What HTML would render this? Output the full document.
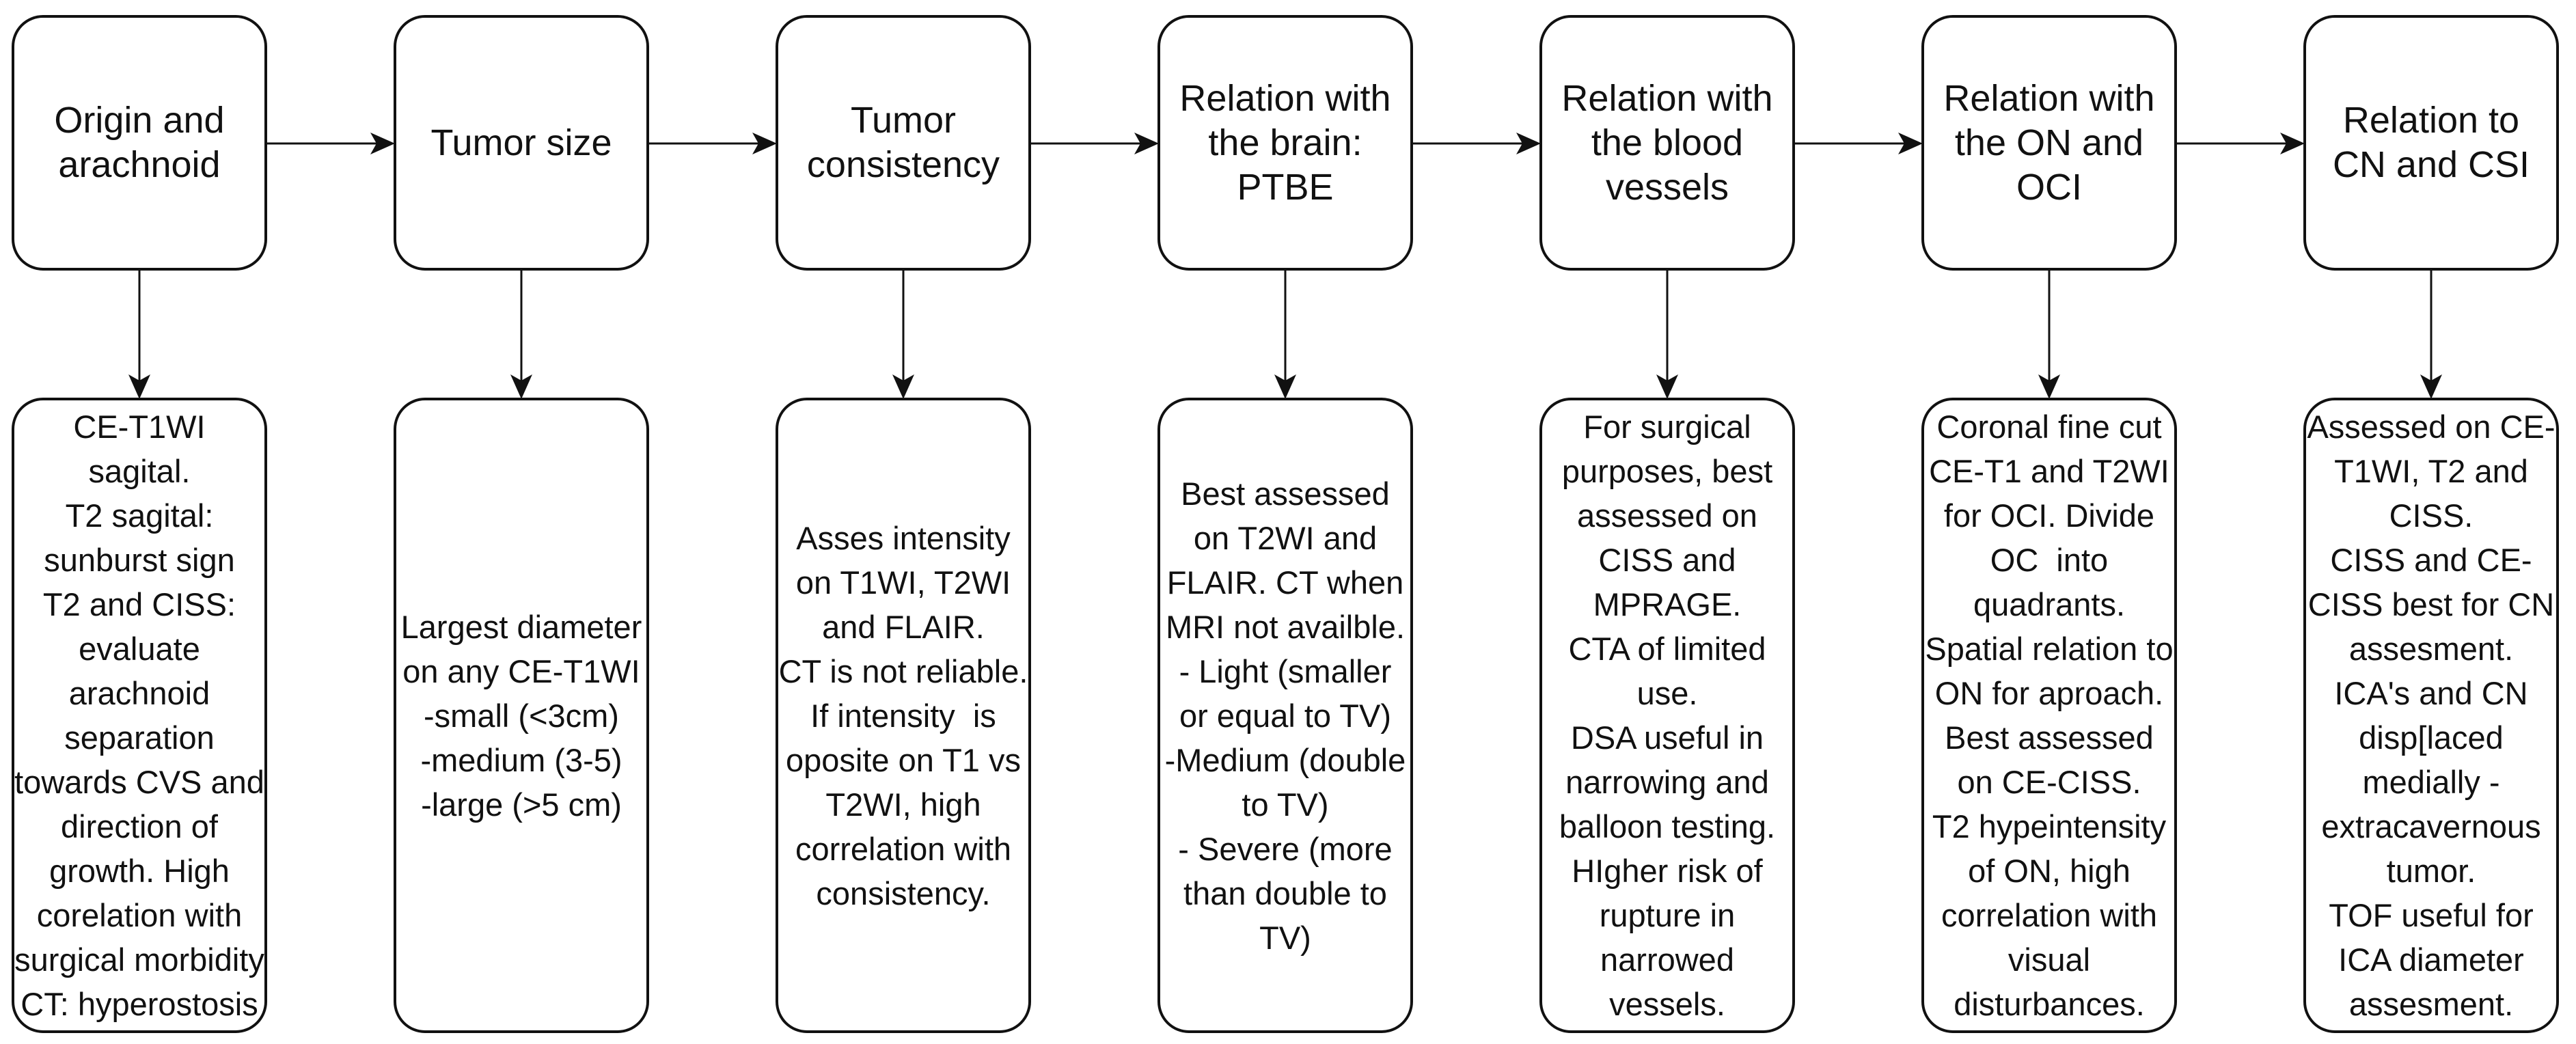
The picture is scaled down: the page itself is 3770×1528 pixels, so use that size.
<!DOCTYPE html>
<html><head><meta charset="utf-8">
<style>
html,body{margin:0;padding:0;background:#fff;}
body{width:3770px;height:1528px;position:relative;overflow:hidden;font-family:"Liberation Sans",Arial,sans-serif;color:#111;}
.b{position:absolute;box-sizing:border-box;border:4px solid #111;border-radius:46px;background:#fff;display:flex;align-items:center;justify-content:center;text-align:center;white-space:nowrap;}
.t{top:22px;height:374px;width:374px;font-size:54px;line-height:65px;}
.d{top:582px;height:930px;width:374px;font-size:47px;line-height:65px;}
svg{position:absolute;left:0;top:0;}
</style></head><body>
<svg width="3770" height="1528">
<g stroke="#111" stroke-width="3" fill="#111">
<!-- horizontal -->
<line x1="391" y1="210" x2="560" y2="210"/>
<line x1="950" y1="210" x2="1119" y2="210"/>
<line x1="1509" y1="210" x2="1678" y2="210"/>
<line x1="2068" y1="210" x2="2237" y2="210"/>
<line x1="2627" y1="210" x2="2796" y2="210"/>
<line x1="3186" y1="210" x2="3355" y2="210"/>
<!-- vertical -->
<line x1="204" y1="396" x2="204" y2="565"/>
<line x1="763" y1="396" x2="763" y2="565"/>
<line x1="1322" y1="396" x2="1322" y2="565"/>
<line x1="1881" y1="396" x2="1881" y2="565"/>
<line x1="2440" y1="396" x2="2440" y2="565"/>
<line x1="2999" y1="396" x2="2999" y2="565"/>
<line x1="3558" y1="396" x2="3558" y2="565"/>
</g>
<g fill="#111" stroke="none">
<path d="M578 210 L542 194 L551 210 L542 226 Z"/>
<path d="M1137 210 L1101 194 L1110 210 L1101 226 Z"/>
<path d="M1696 210 L1660 194 L1669 210 L1660 226 Z"/>
<path d="M2255 210 L2219 194 L2228 210 L2219 226 Z"/>
<path d="M2814 210 L2778 194 L2787 210 L2778 226 Z"/>
<path d="M3373 210 L3337 194 L3346 210 L3337 226 Z"/>
<path d="M204 584 L188 548 L204 557 L220 548 Z"/>
<path d="M763 584 L747 548 L763 557 L779 548 Z"/>
<path d="M1322 584 L1306 548 L1322 557 L1338 548 Z"/>
<path d="M1881 584 L1865 548 L1881 557 L1897 548 Z"/>
<path d="M2440 584 L2424 548 L2440 557 L2456 548 Z"/>
<path d="M2999 584 L2983 548 L2999 557 L3015 548 Z"/>
<path d="M3558 584 L3542 548 L3558 557 L3574 548 Z"/>
</g>
</svg>

<div class="b t" style="left:17px">Origin and<br>arachnoid</div>
<div class="b t" style="left:576px">Tumor size</div>
<div class="b t" style="left:1135px">Tumor<br>consistency</div>
<div class="b t" style="left:1694px">Relation with<br>the brain:<br>PTBE</div>
<div class="b t" style="left:2253px">Relation with<br>the blood<br>vessels</div>
<div class="b t" style="left:2812px">Relation with<br>the ON and<br>OCI</div>
<div class="b t" style="left:3371px">Relation to<br>CN and CSI</div>

<div class="b d" style="left:17px">CE-T1WI<br>sagital.<br>T2 sagital:<br>sunburst sign<br>T2 and CISS:<br>evaluate<br>arachnoid<br>separation<br>towards CVS and<br>direction of<br>growth. High<br>corelation with<br>surgical morbidity<br>CT: hyperostosis</div>
<div class="b d" style="left:576px">Largest diameter<br>on any CE-T1WI<br>-small (&lt;3cm)<br>-medium (3-5)<br>-large (&gt;5 cm)</div>
<div class="b d" style="left:1135px">Asses intensity<br>on T1WI, T2WI<br>and FLAIR.<br>CT is not reliable.<br>If intensity&nbsp; is<br>oposite on T1 vs<br>T2WI, high<br>correlation with<br>consistency.</div>
<div class="b d" style="left:1694px">Best assessed<br>on T2WI and<br>FLAIR. CT when<br>MRI not availble.<br>- Light (smaller<br>or equal to TV)<br>-Medium (double<br>to TV)<br>- Severe (more<br>than double to<br>TV)</div>
<div class="b d" style="left:2253px">For surgical<br>purposes, best<br>assessed on<br>CISS and<br>MPRAGE.<br>CTA of limited<br>use.<br>DSA useful in<br>narrowing and<br>balloon testing.<br>HIgher risk of<br>rupture in<br>narrowed<br>vessels.</div>
<div class="b d" style="left:2812px">Coronal fine cut<br>CE-T1 and T2WI<br>for OCI. Divide<br>OC&nbsp; into<br>quadrants.<br>Spatial relation to<br>ON for aproach.<br>Best assessed<br>on CE-CISS.<br>T2 hypeintensity<br>of ON, high<br>correlation with<br>visual<br>disturbances.</div>
<div class="b d" style="left:3371px">Assessed on CE-<br>T1WI, T2 and<br>CISS.<br>CISS and CE-<br>CISS best for CN<br>assesment.<br>ICA's and CN<br>disp[laced<br>medially -<br>extracavernous<br>tumor.<br>TOF useful for<br>ICA diameter<br>assesment.</div>
</body></html>
